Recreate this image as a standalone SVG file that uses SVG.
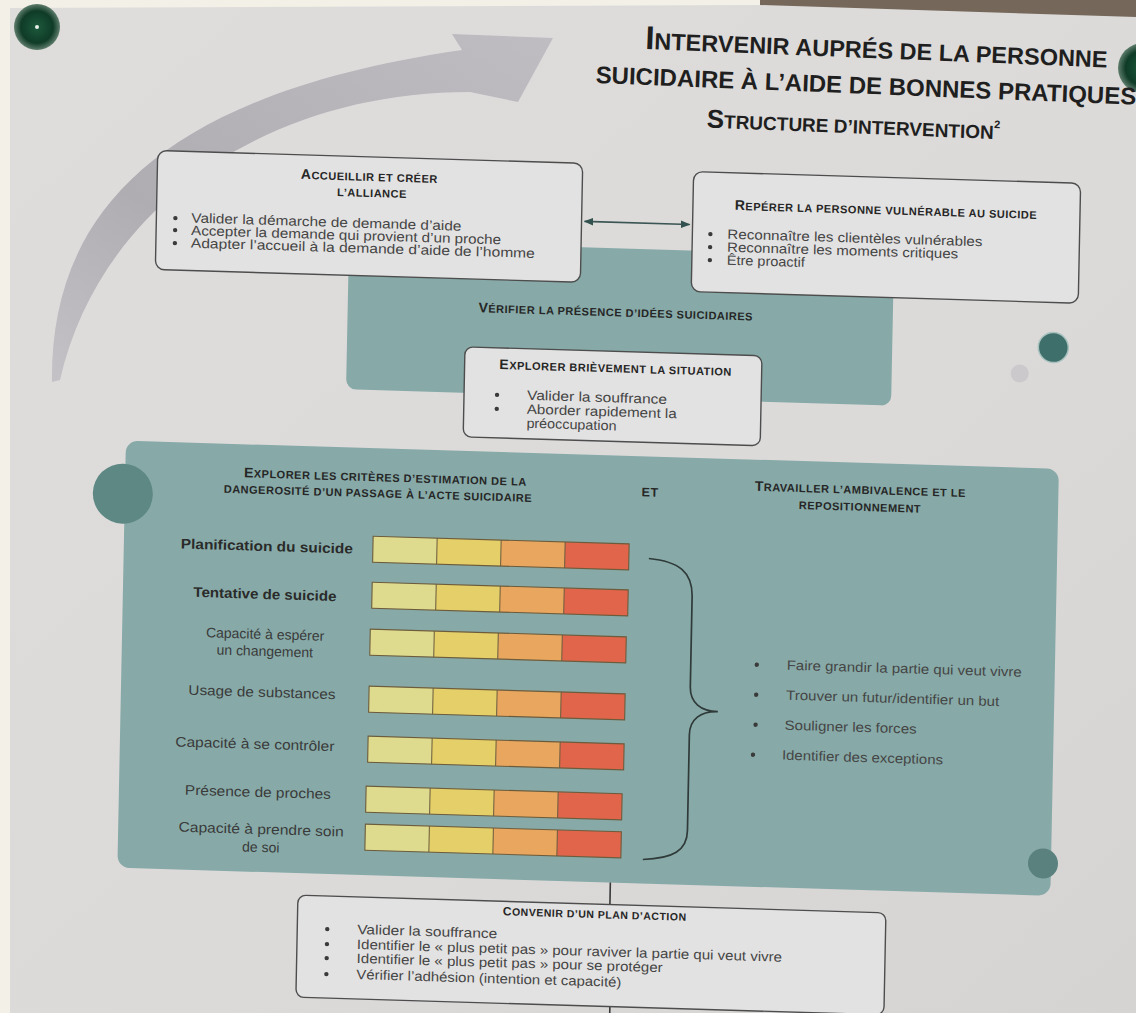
<svg xmlns="http://www.w3.org/2000/svg" width="1136" height="1013" viewBox="0 0 1136 1013">
<style>
.ttl{font-family:"Liberation Sans",Arial,sans-serif;font-weight:bold;fill:#1f1f1f}
.sc{font-family:"Liberation Sans",Arial,sans-serif;font-weight:bold;fill:#262626;font-size:11px;letter-spacing:0.5px;text-anchor:middle}
.sc .B{font-size:14px}
.bl{font-family:"Liberation Sans",Arial,sans-serif;fill:#454545;font-size:13.5px}
.lab{font-family:"Liberation Sans",Arial,sans-serif;fill:#3a3a3a;font-size:14px;text-anchor:middle}
.bd{font-weight:bold;fill:#2a2a2a}
.box{fill:#e3e2e2;stroke:#4d4d4d;stroke-width:1.4}
.teal{fill:#87aaa8}
.dot{fill:#3a3a3a}
.conn{stroke:#3a5553;stroke-width:1.6;fill:none}
</style>
<defs>
<linearGradient id="paper" x1="0" y1="0" x2="1" y2="1">
<stop offset="0" stop-color="#dfdddc"/><stop offset="0.6" stop-color="#dcdad9"/><stop offset="1" stop-color="#d6d4d3"/>
</linearGradient>
<linearGradient id="arcg" x1="0" y1="1" x2="1" y2="0">
<stop offset="0" stop-color="#c4c2c6"/><stop offset="0.35" stop-color="#afadb2"/><stop offset="1" stop-color="#bfbdc1"/>
</linearGradient>
<radialGradient id="pin" cx="0.5" cy="0.5" r="0.5">
<stop offset="0" stop-color="#1d5a3c"/><stop offset="0.7" stop-color="#0f3b27"/><stop offset="1" stop-color="#5f7d6c"/>
</radialGradient>
<marker id="ah" viewBox="0 0 10 10" refX="9" refY="5" markerWidth="6" markerHeight="6" orient="auto-start-reverse">
<path d="M0,1 L10,5 L0,9 z" fill="#33524f"/>
</marker>
<g id="bar">
<rect x="0" y="0" width="64" height="26" fill="#dedb8f"/>
<rect x="64" y="0" width="64" height="26" fill="#e5cf68"/>
<rect x="128" y="0" width="64" height="26" fill="#e9a65e"/>
<rect x="192" y="0" width="64" height="26" fill="#e0654a"/>
<path d="M64,0 V26 M128,0 V26 M192,0 V26" stroke="#6d5c3c" stroke-width="1"/>
<rect x="0" y="0" width="256" height="26" fill="none" stroke="#6d5c3c" stroke-width="1.1"/>
</g>
</defs>

<rect x="0" y="0" width="1136" height="1013" fill="url(#paper)"/>
<rect x="0" y="0" width="10" height="1013" fill="#f2f0e7"/>
<polygon points="0,0 760,0 760,5 10,8 0,8" fill="#f2f0e7"/>
<polygon points="760,0 1136,0 1136,17 760,5" fill="#75685a"/>

<path id="arc" d="M52,382 C50,220 150,95 462,50 L452,34 L553,38 L518,102 L470,92 C268,92 100,205 60,380 Z" fill="url(#arcg)"/>

<circle cx="37" cy="27" r="23" fill="url(#pin)"/>
<circle cx="37" cy="27" r="2" fill="#e8f0ea"/>
<circle cx="1143" cy="68" r="25" fill="url(#pin)"/>

<g id="title" transform="rotate(2.3 870 85)">
<text class="ttl" x="875" y="58" text-anchor="middle" style="font-size:23.5px"><tspan style="font-size:33px">I</tspan>NTERVENIR AUPRÉS DE LA PERSONNE</text>
<text class="ttl" x="866" y="94" text-anchor="middle" style="font-size:24px">SUICIDAIRE À L’AIDE DE BONNES PRATIQUES</text>
<text class="ttl" x="855" y="134" text-anchor="middle" style="font-size:19px"><tspan style="font-size:26px">S</tspan>TRUCTURE D’INTERVENTION<tspan style="font-size:11px" dy="-11">2</tspan></text>
</g>

<g id="poster" transform="matrix(1 0.03 -0.02 1 10 -18)">

<g id="verifier">
<rect class="teal" x="344" y="248" width="545" height="149" rx="10"/>
<text class="sc" x="612" y="316"><tspan class="B">V</tspan>ÉRIFIER LA PRÉSENCE D’IDÉES SUICIDAIRES</text>
</g>

<g id="accueillir">
<rect class="box" x="151" y="164" width="425" height="119" rx="9"/>
<text class="sc" x="363" y="188"><tspan class="B">A</tspan>CCUEILLIR  ET CRÉER</text>
<text class="sc" x="366" y="204">L’ALLIANCE</text>
<circle class="dot" cx="170" cy="231" r="2.2"/><circle class="dot" cx="170" cy="243" r="2.2"/><circle class="dot" cx="170" cy="256" r="2.2"/>
<text class="bl" x="186" y="235" textLength="270" lengthAdjust="spacingAndGlyphs">Valider la démarche de demande d’aide</text>
<text class="bl" x="186" y="247.5" textLength="310" lengthAdjust="spacingAndGlyphs">Accepter la demande qui provient d’un proche</text>
<text class="bl" x="186" y="260" textLength="344" lengthAdjust="spacingAndGlyphs">Adapter l’accueil à la demande d’aide de l’homme</text>
</g>

<g id="reperer">
<rect class="box" x="687" y="169" width="387" height="120" rx="9"/>
<text class="sc" x="880" y="206"><tspan class="B">R</tspan>EPÉRER LA PERSONNE VULNÉRABLE AU SUICIDE</text>
<circle class="dot" cx="705" cy="231" r="2.2"/><circle class="dot" cx="705" cy="244" r="2.2"/><circle class="dot" cx="705" cy="257" r="2.2"/>
<text class="bl" x="722" y="235" textLength="255" lengthAdjust="spacingAndGlyphs">Reconnaître les clientèles vulnérables</text>
<text class="bl" x="722" y="248" textLength="231" lengthAdjust="spacingAndGlyphs">Reconnaître les moments critiques</text>
<text class="bl" x="722" y="261" textLength="78" lengthAdjust="spacingAndGlyphs">Être proactif</text>
</g>

<g id="explorer-situation">
<rect class="box" x="462" y="351" width="297" height="90" rx="8"/>
<text class="sc" x="613" y="372"><tspan class="B">E</tspan>XPLORER BRIÈVEMENT LA SITUATION</text>
<circle class="dot" cx="495" cy="398" r="2.2"/><circle class="dot" cx="495" cy="412" r="2.2"/>
<text class="bl" x="525" y="402" textLength="140" lengthAdjust="spacingAndGlyphs">Valider la souffrance</text>
<text class="bl" x="525" y="416" textLength="150" lengthAdjust="spacingAndGlyphs">Aborder rapidement la</text>
<text class="bl" x="525" y="430" textLength="90" lengthAdjust="spacingAndGlyphs">préoccupation</text>
</g>

<g id="panel">
<rect class="teal" x="125" y="455" width="933" height="427" rx="12"/>
<text class="sc" x="385" y="488"><tspan class="B">E</tspan>XPLORER LES CRITÈRES D’ESTIMATION DE LA</text>
<text class="sc" x="378" y="504">DANGEROSITÉ D’UN PASSAGE À L’ACTE SUICIDAIRE</text>
<text class="sc" x="650" y="495" style="font-size:12.5px">ET</text>
<text class="sc" x="860" y="486"><tspan class="B">T</tspan>RAVAILLER L’AMBIVALENCE ET LE</text>
<text class="sc" x="860" y="503">REPOSITIONNEMENT</text>

<use href="#bar" x="374" y="543"/>
<use href="#bar" x="374" y="589"/>
<use href="#bar" x="373" y="636"/>
<use href="#bar" x="373" y="693"/>
<use href="#bar" x="373" y="743"/>
<use href="#bar" x="372" y="793"/>
<use href="#bar" x="372" y="831"/>

<text class="lab bd" x="268" y="561" textLength="172" lengthAdjust="spacingAndGlyphs">Planification du suicide</text>
<text class="lab bd" x="267" y="609" textLength="143" lengthAdjust="spacingAndGlyphs">Tentative de suicide</text>
<text class="lab" x="268" y="649">Capacité à espérer</text>
<text class="lab" x="268" y="666">un changement</text>
<text class="lab" x="266" y="707" textLength="147" lengthAdjust="spacingAndGlyphs">Usage de substances</text>
<text class="lab" x="260" y="759" textLength="159" lengthAdjust="spacingAndGlyphs">Capacité à se contrôler</text>
<text class="lab" x="264" y="807" textLength="146" lengthAdjust="spacingAndGlyphs">Présence de proches</text>
<text class="lab" x="268" y="844" textLength="165" lengthAdjust="spacingAndGlyphs">Capacité à prendre soin</text>
<text class="lab" x="268" y="862">de soi</text>

<path d="M650,557 C680,559 694,569 694,594 L694,684 C694,700 705,708 722,708 C705,708 694,716 694,732 L694,828 C694,848 680,856 650,858" fill="none" stroke="#2f3a39" stroke-width="1.7"/>

<circle class="dot" cx="760" cy="660" r="2.2"/><circle class="dot" cx="760" cy="690" r="2.2"/><circle class="dot" cx="760" cy="720" r="2.2"/><circle class="dot" cx="758" cy="750" r="2.2"/>
<text class="bl" x="790" y="664" textLength="235" lengthAdjust="spacingAndGlyphs">Faire grandir la partie qui veut vivre</text>
<text class="bl" x="790" y="694" textLength="213" lengthAdjust="spacingAndGlyphs">Trouver un futur/identifier un but</text>
<text class="bl" x="789" y="724" textLength="132" lengthAdjust="spacingAndGlyphs">Souligner les forces</text>
<text class="bl" x="787" y="754" textLength="161" lengthAdjust="spacingAndGlyphs">Identifier des exceptions</text>
</g>

<circle cx="123" cy="508" r="30" fill="#5e8884"/>
<circle cx="1050" cy="334" r="15" fill="#3f6f6a" stroke="#a8c2bf" stroke-width="1.5"/>
<circle cx="1017" cy="361" r="9" fill="#cbc9cc"/>
<circle cx="1050" cy="850" r="15" fill="#5a817e"/>

<g id="connectors">
<line class="conn" x1="579" y1="222" x2="684" y2="222" marker-start="url(#ah)" marker-end="url(#ah)"/>
<line x1="618" y1="882" x2="618" y2="904" stroke="#3a3a3a" stroke-width="1.6"/>
<line x1="620" y1="1006" x2="620" y2="1030" stroke="#3a3a3a" stroke-width="1.6"/>
</g>

<g id="plan">
<rect class="box" x="306" y="904" width="588" height="102" rx="8"/>
<text class="sc" x="603" y="918" style="font-size:10.5px"><tspan style="font-size:12px">C</tspan>ONVENIR D’UN PLAN D’ACTION</text>
<circle class="dot" cx="336" cy="937" r="2.2"/><circle class="dot" cx="336" cy="952" r="2.2"/><circle class="dot" cx="336" cy="966" r="2.2"/><circle class="dot" cx="336" cy="982" r="2.2"/>
<text class="bl" x="366" y="941" textLength="140" lengthAdjust="spacingAndGlyphs">Valider la souffrance</text>
<text class="bl" x="366" y="956" textLength="425" lengthAdjust="spacingAndGlyphs">Identifier le « plus petit pas » pour raviver la partie qui veut vivre</text>
<text class="bl" x="366" y="970" textLength="306" lengthAdjust="spacingAndGlyphs">Identifier le « plus petit pas » pour se protéger</text>
<text class="bl" x="366" y="986" textLength="265" lengthAdjust="spacingAndGlyphs">Vérifier l’adhésion (intention et capacité)</text>
</g>
</g>
</svg>
